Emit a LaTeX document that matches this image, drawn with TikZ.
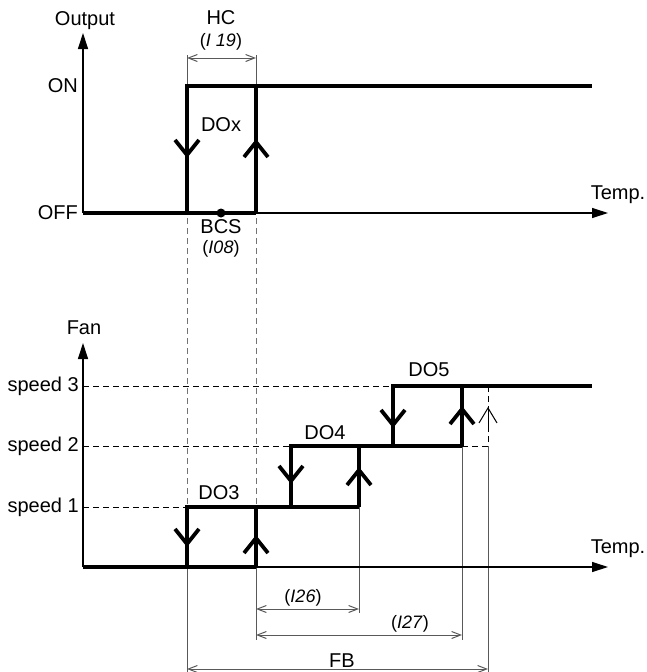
\documentclass[tikz,border=0pt]{standalone}
\usepackage{fontspec}
\setmainfont{Liberation Sans}
\usetikzlibrary{arrows.meta,positioning}
\tikzset{
  axis/.style={line width=1.2pt, -{Triangle[length=16pt,width=10pt]}},
  sig/.style={line width=3.8pt},
  sigarr/.style={line width=3.8pt, -{Straight Barb[length=15pt,width=24pt]}},
  guide/.style={dash pattern=on 6pt off 4pt, line width=1pt},
  gguide/.style={guide, black!55},
  ext/.style={line width=1pt, black!65},
  dim/.style={line width=1pt, black!65, {Straight Barb[length=9pt,width=7pt]}-{Straight Barb[length=9pt,width=7pt]}},
  lbl/.style={font=\fontsize{20}{22}\selectfont, inner sep=0pt},
  par/.style={lbl, font=\fontsize{18}{20}\selectfont},
}
\begin{document}
\begin{tikzpicture}[x=1pt, y=-1pt]
\useasboundingbox (0,0) rectangle (646,672);
% guides between both charts
\draw[gguide] (187,218) -- (187,507);
\draw[gguide] (256,218) -- (256,507);
% upper chart: output
\draw[axis] (83,213) -- (83,33);
\draw[axis] (83,213) -- (608,213);
\node[lbl] (out) at (85,21) {Output};
\node[lbl] (tempa) at (618,195) {Temp.};
\node[lbl, anchor=east] (on) at (78,86) {ON};
\node[lbl, anchor=east] (off) at (78,213) {OFF};
\draw[ext] (187,55) -- (187,86);
\draw[ext] (256,55) -- (256,86);
\draw[dim] (187,58) -- (256,58);
\node[lbl] (hc) at (221,18) {HC};
\node[par] (hcp) at (221,42) {(\textit{I 19})};
\draw[sig] (83,213) -- (256,213);
\draw[sig] (187,213) -- (187,86) -- (592,86);
\draw[sig] (256,213) -- (256,86);
\draw[sigarr] (187,120) -- (187,158);
\draw[sigarr] (256,180) -- (256,139);
\node[lbl] (dox) at (221,125) {DOx};
\node[circle, fill, inner sep=0pt, minimum size=9pt] (bcs) at (221,213) {};
\node[lbl] (bcsl) at (221,227) {BCS};
\node[par] (bcsp) at (221,249) {(\textit{I08})};
% lower chart: fan speed
\draw[ext] (187,567) -- (187,672);
\draw[ext] (256,567) -- (256,640);
\draw[ext] (359,507) -- (359,613);
\draw[ext] (462,446) -- (462,640);
\draw[ext] (488,446) -- (488,672);
\draw[axis] (83,567) -- (83,343);
\draw[axis] (83,567) -- (608,567);
\node[lbl] (fan) at (84,328) {Fan};
\node[lbl] (tempb) at (618,549) {Temp.};
\node[lbl, anchor=east] (sp3) at (79,386) {speed 3};
\node[lbl, anchor=east] (sp2) at (79,446) {speed 2};
\node[lbl, anchor=east] (sp1) at (79,507) {speed 1};
\draw[guide] (83,386) -- (393,386);
\draw[guide] (83,446) -- (291,446);
\draw[guide] (83,507) -- (187,507);
\draw[guide] (462,446) -- (488,446) -- (488,386);
\draw[line width=1pt, -{Straight Barb[length=15pt,width=18pt]}] (488,430) -- (488,407);
\draw[sig] (83,567) -- (256,567);
\draw[sig] (187,567) -- (187,507) -- (359,507);
\draw[sig] (256,567) -- (256,507);
\draw[sig] (291,507) -- (291,446) -- (462,446);
\draw[sig] (359,507) -- (359,446);
\draw[sig] (393,446) -- (393,386) -- (592,386);
\draw[sig] (462,446) -- (462,386);
\draw[sigarr] (187,515) -- (187,547);
\draw[sigarr] (256,560) -- (256,535);
\draw[sigarr] (291,455) -- (291,484);
\draw[sigarr] (359,500) -- (359,467);
\draw[sigarr] (393,395) -- (393,428);
\draw[sigarr] (462,440) -- (462,406);
\node[lbl] (do3) at (219,493) {DO3};
\node[lbl] (do4) at (325,433) {DO4};
\node[lbl] (do5) at (429,370) {DO5};
% delays
\draw[dim] (256,609) -- (359,609);
\node[par] (dl26) at (303,598) {(\textit{I26})};
\draw[dim] (256,635) -- (462,635);
\node[par] (dl27) at (410,624) {(\textit{I27})};
\draw[dim] (187,669) -- (488,669);
\node[lbl] (fb) at (342,661) {FB};
\end{tikzpicture}
\end{document}
